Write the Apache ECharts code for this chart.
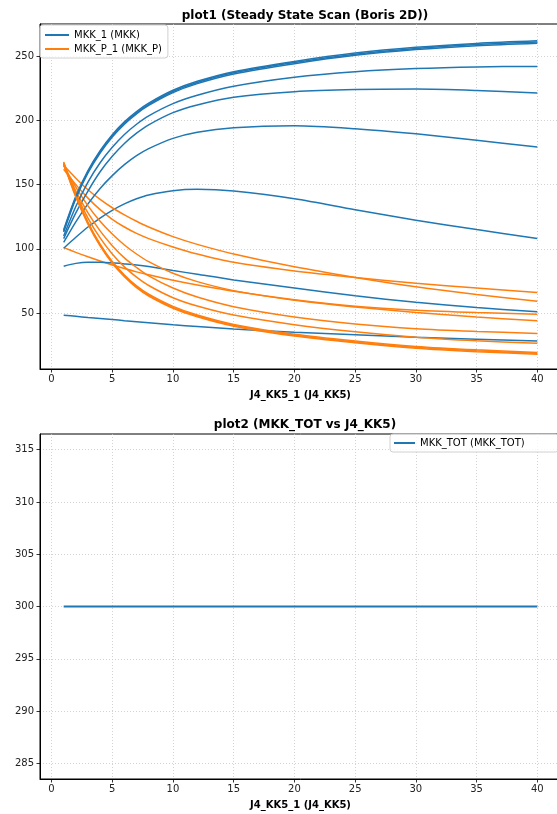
<!DOCTYPE html>
<html><head><meta charset="utf-8">
<script src="https://cdn.jsdelivr.net/npm/echarts@6/dist/echarts.min.js"></script>
<style>html,body{margin:0;padding:0;background:#fff;overflow:hidden}#c{width:566px;height:814px}</style>
</head><body><div id="c"></div>
<script>
// ---- data ----
const xValues = [1, 2, 3, 4, 5, 6, 7, 8, 10, 12, 15, 20, 25, 30, 35, 40];
const xTicks = [0, 5, 10, 15, 20, 25, 30, 35, 40];
const yTicksTop = [50, 100, 150, 200, 250];
const yTicksBottom = [285, 290, 295, 300, 305, 310, 315];

// MKK (blue) curves
const mkk1a = [114.9, 140.9, 160.9, 176.4, 188.9, 198.9, 206.9, 213.4, 223.4, 230.4, 237.9, 245.9, 252.4, 256.9, 259.9, 261.9];
const mkk1b = [114, 140, 160, 175.5, 188, 198, 206, 212.5, 222.5, 229.5, 237, 245, 251.5, 256, 259, 261];
const mkk1c = [113.1, 139.1, 159.1, 174.6, 187.1, 197.1, 205.1, 211.6, 221.6, 228.6, 236.1, 244.1, 250.6, 255.1, 258.1, 260.1];
const mkk2 = [110, 133, 152, 167, 179, 189, 197, 203.5, 213, 219.5, 226.5, 233.5, 237.8, 240.3, 241.6, 242];
const mkk3 = [108, 128, 145, 160, 172, 182, 190, 196.5, 206, 212, 218, 222.3, 224, 224.4, 223.3, 221.3];
const mkk4 = [105, 121, 135, 147, 157, 165.5, 172.5, 178, 186, 190.8, 194.3, 195.8, 193.5, 189.5, 184.5, 179.3];
const mkk5 = [100.5, 109, 117, 124, 130, 135, 139, 142, 145.3, 146.3, 145, 139, 130.5, 122.3, 115, 108];
const mkk6 = [86.5, 88.7, 89.6, 89.6, 89.1, 88.3, 87.4, 86.2, 83.2, 80.2, 75.8, 69.5, 63.5, 58.4, 54.3, 51];
const mkk7 = [48.4, 47.5, 46.6, 45.8, 45, 44.1, 43.3, 42.5, 40.9, 39.6, 37.7, 35.1, 33.1, 31.2, 29.6, 28.2];

// MKK_P (orange) curves
const mkkP1a = [167.7, 141.7, 120.7, 103.7, 90.2, 79.7, 71.2, 64.7, 55.2, 48.5, 41.2, 33.5, 28.3, 24.1, 21.4, 19.4];
const mkkP1b = [167, 141, 120, 103, 89.5, 79, 70.5, 64, 54.5, 47.8, 40.5, 32.8, 27.6, 23.4, 20.7, 18.7];
const mkkP1c = [166.3, 140.3, 119.3, 102.3, 88.8, 78.3, 69.8, 63.3, 53.8, 47.1, 39.8, 32.1, 26.9, 22.7, 20, 18];
const mkkP2 = [166, 143, 124, 108.5, 96, 86, 78, 71.5, 62, 55.5, 48.5, 41, 35.5, 31.3, 28.5, 26.5];
const mkkP3 = [165, 145, 128, 114, 102.5, 93, 85.5, 79, 69.5, 62.5, 55, 47, 41.5, 37.8, 35.7, 34.2];
const mkkP4 = [165, 148, 133.5, 121.5, 111.5, 103, 96, 90, 81, 74.5, 67.5, 60, 54.8, 50.5, 47, 44];
const mkkP5 = [101, 97.3, 93.8, 90.5, 87.5, 84.7, 82.1, 79.8, 75.6, 71.9, 67, 60.4, 55.3, 52.2, 50.4, 49.2];
const mkkP6 = [165, 155, 146, 138.5, 132, 126.5, 121.5, 117, 109.5, 103.5, 96, 86, 77.8, 70.5, 64.5, 59.3];
const mkkP7 = [162, 150, 139.5, 130.5, 123, 117, 112, 108, 101.5, 96, 89.5, 82.8, 77.8, 73.2, 69.5, 66.1];

// MKK_TOT
const mkkTot = [300, 300, 300, 300, 300, 300, 300, 300, 300, 300, 300, 300, 300, 300, 300, 300];

// ---- chart ----
const BLUE = '#1f77b4', ORANGE = '#ff7f0e';
const NAME_B = 'MKK_1 (MKK)', NAME_O = 'MKK_P_1 (MKK_P)', NAME_T = 'MKK_TOT (MKK_TOT)';
const FONT = 'DejaVu Sans';

function line(name, vals, color, g, w) {
  return {
    type: 'line', name: name, xAxisIndex: g, yAxisIndex: g,
    data: xValues.map((x, i) => [x, vals[i]]),
    showSymbol: false, symbol: 'none', smooth: 0.3,
    lineStyle: { width: w || 1.5, color: color }, itemStyle: { color: color },
    silent: true, animation: false
  };
}

const blues = [mkk7, mkk6, mkk5, mkk4, mkk3, mkk2, mkk1c, mkk1b, mkk1a];
const oranges = [mkkP5, mkkP7, mkkP6, mkkP4, mkkP3, mkkP2, mkkP1a, mkkP1b, mkkP1c];
const series = [];
for (let i = 0; i < blues.length; i++) {
  series.push(line(NAME_B, blues[i], BLUE, 0));
  series.push(line(NAME_O, oranges[i], ORANGE, 0));
}
series.push(line(NAME_T, mkkTot, BLUE, 1, 2));

function xAxis(g) {
  return {
    type: 'value', gridIndex: g, min: -0.95, max: 41.95,
    name: 'J4_KK5_1 (J4_KK5)', nameLocation: 'middle', nameGap: 21,
    nameTextStyle: { fontFamily: FONT, fontSize: 10, fontWeight: 'bold', color: '#000' },
    axisLine: { show: true, onZero: false, lineStyle: { color: '#000', width: 1 } },
    axisTick: { show: true, length: 3.5, customValues: xTicks, lineStyle: { color: '#000', width: 0.8 } },
    axisLabel: { show: true, customValues: xTicks, margin: 5, fontFamily: FONT, fontSize: 10, color: '#222' },
    splitLine: { show: true, lineStyle: { type: [1, 2], color: '#c8c8c8', width: 0.8 } }
  };
}
function yAxis(g, mn, mx, ticks) {
  return {
    type: 'value', gridIndex: g, min: mn, max: mx,
    axisLine: { show: true, onZero: false, lineStyle: { color: '#000', width: 1 } },
    axisTick: { show: true, length: 3.5, customValues: ticks, lineStyle: { color: '#000', width: 0.8 } },
    axisLabel: { show: true, customValues: ticks, margin: 6, fontFamily: FONT, fontSize: 10, color: '#222' },
    splitLine: { show: true, lineStyle: { type: [1, 2], color: '#c8c8c8', width: 0.8 } }
  };
}

const chart = echarts.init(document.getElementById('c'), null, { renderer: 'canvas' });
chart.setOption({
  animation: false,
  backgroundColor: '#fff',
  title: [
    { text: 'plot1 (Steady State Scan (Boris 2D))', left: 300, top: 5, textAlign: 'center',
      textStyle: { fontFamily: FONT, fontSize: 12, fontWeight: 'bold', color: '#000' } },
    { text: 'plot2 (MKK_TOT vs J4_KK5)', left: 300, top: 414, textAlign: 'center',
      textStyle: { fontFamily: FONT, fontSize: 12, fontWeight: 'bold', color: '#000' } }
  ],
  grid: [
    { left: 40, top: 24, width: 521, height: 345, show: true, borderColor: '#000', borderWidth: 1, backgroundColor: 'transparent' },
    { left: 40, top: 434, width: 521, height: 345, show: true, borderColor: '#000', borderWidth: 1, backgroundColor: 'transparent' }
  ],
  xAxis: [xAxis(0), xAxis(1)],
  yAxis: [yAxis(0, 6.5, 275, yTicksTop), yAxis(1, 283.5, 316.5, yTicksBottom)],
  legend: [
    { data: [NAME_B, NAME_O], left: 40, top: 25, orient: 'vertical', icon: 'rect',
      itemWidth: 24, itemHeight: 2, itemGap: 4, padding: [5, 6, 4, 5],
      backgroundColor: 'rgba(255,255,255,0.8)', borderColor: '#d0d0d0', borderWidth: 1, borderRadius: 3,
      textStyle: { fontFamily: FONT, fontSize: 10, color: '#000' }, selectedMode: false },
    { data: [NAME_T], left: 390, top: 434, orient: 'vertical', icon: 'rect',
      itemWidth: 21, itemHeight: 2, padding: [4, 34, 4, 4],
      backgroundColor: 'rgba(255,255,255,0.8)', borderColor: '#d0d0d0', borderWidth: 1, borderRadius: 3,
      textStyle: { fontFamily: FONT, fontSize: 10, color: '#000' }, selectedMode: false }
  ],
  series: series
});
</script>
</body></html>
